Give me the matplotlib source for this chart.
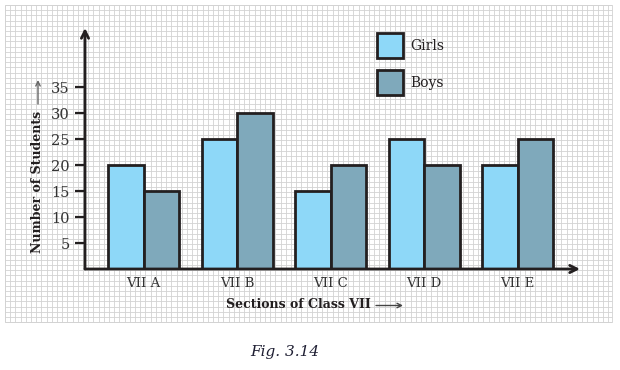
import matplotlib.pyplot as plt
from matplotlib.patches import Rectangle
import numpy as np

sections = ['VII A', 'VII B', 'VII C', 'VII D', 'VII E']
girls = [20, 25, 15, 25, 20]
boys = [15, 30, 20, 20, 25]
y_ticks = [5, 10, 15, 20, 25, 30, 35]

girl_color = '#8ED8F8'
boy_color = '#7FA9BB'
edge = '#231F20'
serif = ['DejaVu Serif', 'DejaVu Sans']

W, H = 620, 370
fig = plt.figure(figsize=(W / 100, H / 100), dpi=100)

# graph paper background, in pixel units
bg = fig.add_axes([0, 0, 1, 1])
bg.set_xlim(0, W)
bg.set_ylim(H, 0)
bg.axis('off')
gx = np.arange(5, 613, 5.2)
gy = np.arange(5, 323, 5.2)
bg.vlines(gx, 5, 322, color='#d2d2d2', lw=0.6)
bg.hlines(gy, 5, 612, color='#d2d2d2', lw=0.6)
bg.vlines([5, 612], 5, 322, color='#d2d2d2', lw=0.6)
bg.hlines([5, 322], 5, 612, color='#d2d2d2', lw=0.6)

# main axes: left 85px, right 580px, bottom 269px, top 28px
ax = fig.add_axes([85 / W, 1 - 269 / H, 495 / W, 241 / H])
ax.patch.set_alpha(0)
ax.set_xlim(-0.626, 4.668)
ax.set_ylim(0, 46.35)

x = np.arange(len(sections))
w = 0.38
ax.bar(x - w / 2, girls, w, color=girl_color, edgecolor=edge, linewidth=2, zorder=3)
ax.bar(x + w / 2, boys, w, color=boy_color, edgecolor=edge, linewidth=2, zorder=3)

for s in ax.spines.values():
    s.set_visible(False)
ax.annotate('', xy=(0, 1), xytext=(0, 0), xycoords='axes fraction',
            arrowprops=dict(arrowstyle='->', color=edge, lw=2, mutation_scale=13,
                            shrinkA=0, shrinkB=0), zorder=4)
ax.annotate('', xy=(1, 0), xytext=(0, 0), xycoords='axes fraction',
            arrowprops=dict(arrowstyle='->', color=edge, lw=2, mutation_scale=13,
                            shrinkA=0, shrinkB=0), zorder=4)

ax.set_yticks(y_ticks)
ax.set_yticklabels([str(v) for v in y_ticks], family=serif, fontsize=10.5, color='#333333')
ax.tick_params(axis='y', length=7, width=1.6, color=edge, pad=4)
ax.set_xticks(x)
ax.set_xticklabels(sections, family=serif, fontsize=9.5, color='#333333')
ax.tick_params(axis='x', length=0, pad=6)

# axis titles with thin arrows
fig.text(226 / W, 1 - 305 / H, 'Sections of Class VII', family=serif,
         fontweight='bold', fontsize=9, color=edge, ha='left', va='center')
bg.annotate('', xy=(403, 305.5), xytext=(376, 305.5),
            arrowprops=dict(arrowstyle='->', color='#444444', lw=1, mutation_scale=8,
                            shrinkA=0, shrinkB=0))
fig.text(38 / W, 1 - 253 / H, 'Number of Students', family=serif,
         fontweight='bold', fontsize=9, color=edge, rotation=90,
         ha='center', va='bottom')
bg.annotate('', xy=(38, 80), xytext=(38, 104),
            arrowprops=dict(arrowstyle='->', color='#666666', lw=1, mutation_scale=8,
                            shrinkA=0, shrinkB=0))

# legend
for top, color, label in [(33, girl_color, 'Girls'), (70, boy_color, 'Boys')]:
    bg.add_patch(Rectangle((377, top), 26, 25, facecolor=color, edgecolor=edge, lw=2, zorder=3))
    bg.text(410, top + 13, label, family=serif, fontsize=10, color=edge, ha='left', va='center',
            zorder=3)

fig.text(285 / W, 1 - 352 / H, 'Fig. 3.14', family=serif, style='italic', fontsize=11,
         color='#1f1f33', ha='center', va='center')

fig.savefig('out.png', dpi=100)
